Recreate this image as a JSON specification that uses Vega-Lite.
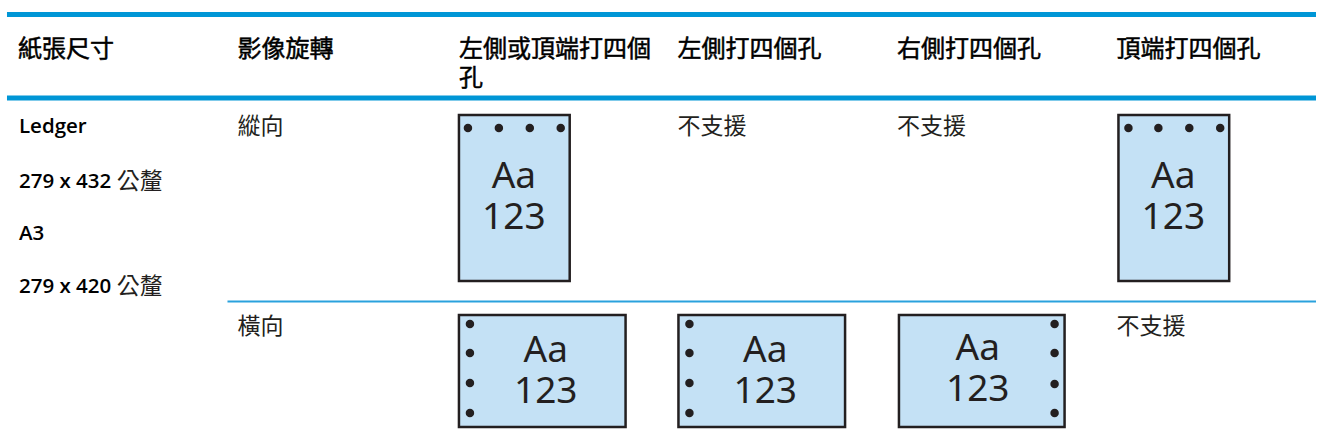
{
  "$schema": "https://vega.github.io/schema/vega-lite/v6.json",
  "width": 1319,
  "height": 442,
  "padding": 0,
  "autosize": {"type": "fit", "contains": "padding"},
  "config": {"view": {"stroke": null}},
  "datasets": {
    "thickRules": [
      {"x": 7, "x2": 1319, "y": 14.5},
      {"x": 7, "x2": 1319, "y": 98}
    ],
    "thinRules": [
      {"x": 228, "x2": 1319, "y": 301.5}
    ],
    "header": [
      {"x": 18, "y": 50, "label": ["紙張尺寸"]},
      {"x": 238, "y": 50, "label": ["影像旋轉"]},
      {"x": 460, "y": 50, "label": ["左側或頂端打四個", "孔"]},
      {"x": 679, "y": 50, "label": ["左側打四個孔"]},
      {"x": 899, "y": 50, "label": ["右側打四個孔"]},
      {"x": 1119, "y": 50, "label": ["頂端打四個孔"]}
    ],
    "body": [
      {"x": 238, "y": 127, "label": "縱向"},
      {"x": 238, "y": 327, "label": "橫向"},
      {"x": 679, "y": 127, "label": "不支援"},
      {"x": 899, "y": 127, "label": "不支援"},
      {"x": 1119, "y": 327, "label": "不支援"}
    ],
    "sizes": [
      {"x": 19, "y": 127, "label": "Ledger"},
      {"x": 19, "y": 182, "label": "279 x 432"},
      {"x": 19, "y": 234, "label": "A3"},
      {"x": 19, "y": 287, "label": "279 x 420"}
    ],
    "units": [
      {"x": 117, "y": 182, "label": "公釐"},
      {"x": 117, "y": 287, "label": "公釐"}
    ],
    "pages": [
      {"x": 460, "x2": 571, "y": 115, "y2": 281},
      {"x": 1121, "x2": 1232, "y": 115, "y2": 281},
      {"x": 460, "x2": 627, "y": 315, "y2": 427},
      {"x": 680, "x2": 847, "y": 315, "y2": 427},
      {"x": 901, "x2": 1067, "y": 315, "y2": 427}
    ],
    "holes": [
      {"x": 469, "y": 128}, {"x": 500, "y": 128}, {"x": 531, "y": 128}, {"x": 562, "y": 128},
      {"x": 1131, "y": 128}, {"x": 1161, "y": 128}, {"x": 1192, "y": 128}, {"x": 1223, "y": 128},
      {"x": 471, "y": 324}, {"x": 471, "y": 353}, {"x": 471, "y": 383}, {"x": 471, "y": 413},
      {"x": 691, "y": 324}, {"x": 691, "y": 353}, {"x": 691, "y": 383}, {"x": 691, "y": 413},
      {"x": 1057, "y": 324}, {"x": 1057, "y": 353}, {"x": 1057, "y": 384}, {"x": 1057, "y": 413}
    ],
    "pageText": [
      {"x": 515, "y": 177, "label": ["Aa", "123"]},
      {"x": 1176, "y": 177, "label": ["Aa", "123"]},
      {"x": 547, "y": 351, "label": ["Aa", "123"]},
      {"x": 767, "y": 351, "label": ["Aa", "123"]},
      {"x": 980, "y": 349, "label": ["Aa", "123"]}
    ]
  },
  "layer": [
    {
      "data": {"name": "thickRules"},
      "mark": {"type": "rule", "color": "#0096D6", "strokeWidth": 5},
      "encoding": {
        "x": {"field": "x", "type": "quantitative", "scale": {"domain": [0, 1319], "nice": false, "zero": false}, "axis": null},
        "x2": {"field": "x2"},
        "y": {"field": "y", "type": "quantitative", "scale": {"domain": [0, 442], "nice": false, "zero": false, "reverse": true}, "axis": null}
      }
    },
    {
      "data": {"name": "thinRules"},
      "mark": {"type": "rule", "color": "#2AA2DD", "strokeWidth": 1.8},
      "encoding": {
        "x": {"field": "x", "type": "quantitative"},
        "x2": {"field": "x2"},
        "y": {"field": "y", "type": "quantitative"}
      }
    },
    {
      "data": {"name": "header"},
      "mark": {"type": "text", "align": "left", "baseline": "middle", "lineHeight": 29, "font": "Noto Sans CJK TC", "fontSize": 24, "fontWeight": "normal", "color": "#000000", "stroke": "#000000", "strokeWidth": 0.5},
      "encoding": {
        "x": {"field": "x", "type": "quantitative"},
        "y": {"field": "y", "type": "quantitative"},
        "text": {"field": "label"}
      }
    },
    {
      "data": {"name": "body"},
      "mark": {"type": "text", "align": "left", "baseline": "middle", "font": "Noto Sans CJK TC", "fontSize": 23, "color": "#231F20"},
      "encoding": {
        "x": {"field": "x", "type": "quantitative"},
        "y": {"field": "y", "type": "quantitative"},
        "text": {"field": "label"}
      }
    },
    {
      "data": {"name": "sizes"},
      "mark": {"type": "text", "align": "left", "baseline": "middle", "font": "Open Sans", "fontSize": 20.5, "fontWeight": 600, "color": "#000000"},
      "encoding": {
        "x": {"field": "x", "type": "quantitative"},
        "y": {"field": "y", "type": "quantitative"},
        "text": {"field": "label"}
      }
    },
    {
      "data": {"name": "units"},
      "mark": {"type": "text", "align": "left", "baseline": "middle", "font": "Noto Sans CJK TC", "fontSize": 23, "color": "#231F20"},
      "encoding": {
        "x": {"field": "x", "type": "quantitative"},
        "y": {"field": "y", "type": "quantitative"},
        "text": {"field": "label"}
      }
    },
    {
      "data": {"name": "pages"},
      "mark": {"type": "rect", "fill": "#C4E1F5", "stroke": "#231F20", "strokeWidth": 2.5},
      "encoding": {
        "x": {"field": "x", "type": "quantitative"},
        "x2": {"field": "x2"},
        "y": {"field": "y", "type": "quantitative"},
        "y2": {"field": "y2"}
      }
    },
    {
      "data": {"name": "holes"},
      "mark": {"type": "circle", "color": "#231F20", "opacity": 1, "size": 72},
      "encoding": {
        "x": {"field": "x", "type": "quantitative"},
        "y": {"field": "y", "type": "quantitative"}
      }
    },
    {
      "data": {"name": "pageText"},
      "mark": {"type": "text", "align": "center", "baseline": "middle", "lineHeight": 41, "font": "Noto Sans", "fontSize": 37, "color": "#231F20"},
      "encoding": {
        "x": {"field": "x", "type": "quantitative"},
        "y": {"field": "y", "type": "quantitative"},
        "text": {"field": "label"}
      }
    }
  ]
}
